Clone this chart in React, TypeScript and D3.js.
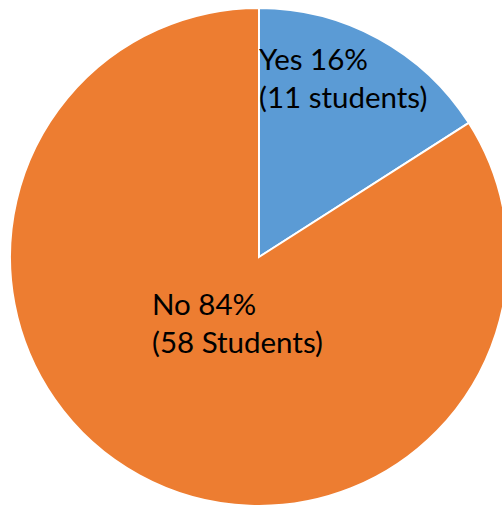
import React, { useEffect, useRef } from "react";
import * as d3 from "d3";

// answers and counts
const categories = ["Yes", "No"];
const counts = [11, 58];
const percents = ["16%", "84%"];
const countLabels = ["(11 students)", "(58 Students)"];
const colors = ["#5B9BD5", "#ED7D31"];

export default function App() {
  const ref = useRef<SVGSVGElement>(null);

  useEffect(() => {
    const width = 502;
    const height = 506;
    const cx = 259;
    const cy = 257;
    const radius = 249;

    const svg = d3.select(ref.current);
    svg.selectAll("*").remove();

    const pie = d3.pie<number>().sort(null).value((d) => d);
    const arcs = pie(counts);

    const arc = d3.arc<d3.PieArcDatum<number>>().innerRadius(0).outerRadius(radius);

    const g = svg.append("g").attr("transform", `translate(${cx},${cy})`);

    g.selectAll("path")
      .data(arcs)
      .join("path")
      .attr("d", arc)
      .attr("fill", (_, i) => colors[i])
      .attr("stroke", "#fff")
      .attr("stroke-width", 2);

    // label anchors (left edge / first baseline of each text block, relative to centre)
    const labelPos = [
      [0, -187],
      [-107, 58],
    ];

    const labels = g
      .selectAll("text")
      .data(arcs)
      .join("text")
      .attr("font-family", "Lato, 'Open Sans', sans-serif")
      .attr("font-size", 29.5)
      .attr("fill", "#000");

    labels
      .append("tspan")
      .attr("x", (_, i) => labelPos[i][0])
      .attr("y", (_, i) => labelPos[i][1])
      .text((_, i) => `${categories[i]} ${percents[i]}`);

    labels
      .append("tspan")
      .attr("x", (_, i) => labelPos[i][0])
      .attr("y", (_, i) => labelPos[i][1] + 38)
      .text((_, i) => countLabels[i]);

    svg.attr("width", width).attr("height", height);
  }, []);

  return (
    <svg
      ref={ref}
      style={{ position: "absolute", left: 0, top: 0, display: "block", background: "#fff" }}
    />
  );
}
